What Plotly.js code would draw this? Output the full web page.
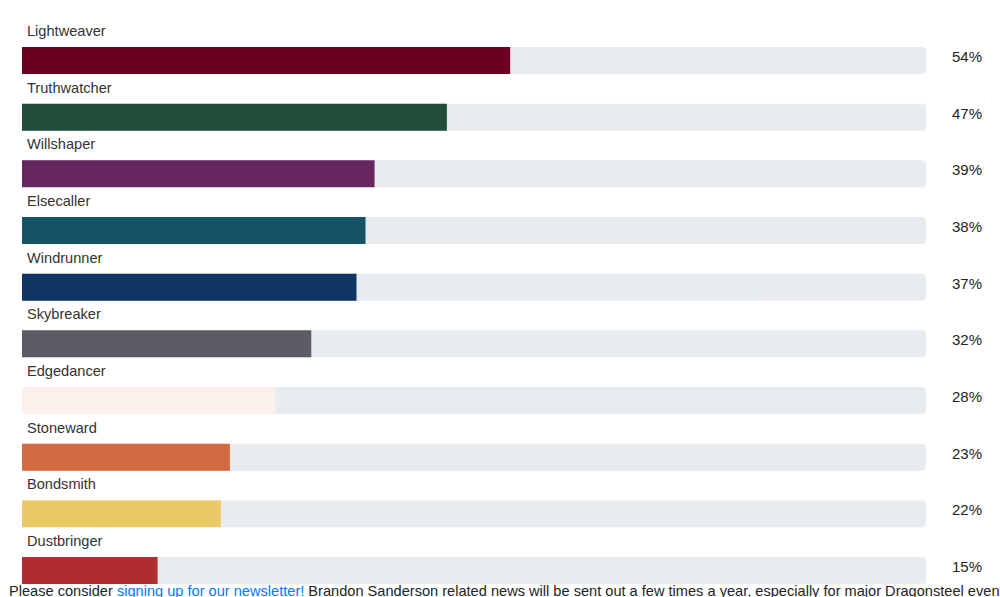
<!DOCTYPE html>
<html>
<head>
<meta charset="utf-8">
<script src="https://cdn.plot.ly/plotly-3.0.1.min.js"></script>
<style>
  html, body { margin: 0; padding: 0; background: #fff; overflow: hidden; }
  #chart { width: 1000px; height: 597px; }
  #note { position: absolute; left: 9px; top: 583px; font-family: "Liberation Sans", Arial, sans-serif; font-size: 14.6px; color: #212529; white-space: nowrap; }
  #note a { color: #007bff; text-decoration: underline; }
</style>
</head>
<body>
<div id="chart"></div>
<div id="note">Please consider <a href="#">signing up for our newsletter!</a> Brandon Sanderson related news will be sent out a few times a year, especially for major Dragonsteel events</div>
<script>
const orders = ["Lightweaver","Truthwatcher","Willshaper","Elsecaller","Windrunner","Skybreaker","Edgedancer","Stoneward","Bondsmith","Dustbringer"];
const percents = [54, 47, 39, 38, 37, 32, 28, 23, 22, 15];
const colors = ["#6b0020","#1f4d3a","#66265e","#155465","#0f3562","#5e5a66","#fbf0ec","#d46a42","#ecc966","#b02c2e"];
const full = orders.map(() => 100);

const font = "Liberation Sans, Arial, sans-serif";
const traces = [
  { type: "bar", orientation: "h", y: orders, x: full, marker: { color: "#e9ecef" }, width: 0.476, hoverinfo: "skip" },
  { type: "bar", orientation: "h", y: orders, x: percents, marker: { color: colors }, width: 0.476, hoverinfo: "skip" }
];

const annotations = [];
orders.forEach((o, i) => {
  annotations.push({ x: 0, y: o, xref: "x", yref: "y", text: o, showarrow: false, xanchor: "left", yanchor: "middle", xshift: 3, yshift: 29.5, font: { family: font, size: 14.6, color: "#333333" } });
  annotations.push({ x: 1, y: o, xref: "paper", yref: "y", text: percents[i] + "%", showarrow: false, xanchor: "left", yanchor: "middle", xshift: 24, yshift: 4, font: { family: font, size: 15, color: "#212529" } });
});

const layout = {
  width: 1000, height: 597,
  margin: { l: 22, r: 74, t: 0, b: 0 },
  paper_bgcolor: "#fff", plot_bgcolor: "#fff",
  barmode: "overlay",
  barcornerradius: 4,
  showlegend: false,
  xaxis: { range: [0, 100], visible: false, fixedrange: true },
  yaxis: { type: "category", range: [9.467, -1.0676], visible: false, fixedrange: true },
  annotations: annotations
};

Plotly.newPlot("chart", traces, layout, { displayModeBar: false, staticPlot: true });
</script>
</body>
</html>
